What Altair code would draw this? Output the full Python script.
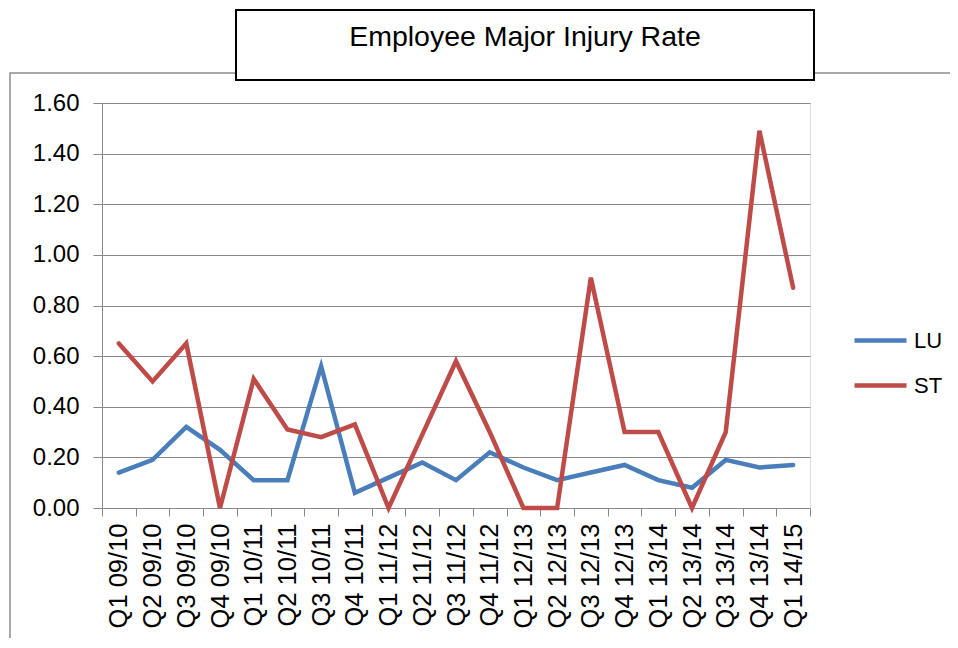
import altair as alt
import pandas as pd

quarters = ["Q1 09/10", "Q2 09/10", "Q3 09/10", "Q4 09/10",
            "Q1 10/11", "Q2 10/11", "Q3 10/11", "Q4 10/11",
            "Q1 11/12", "Q2 11/12", "Q3 11/12", "Q4 11/12",
            "Q1 12/13", "Q2 12/13", "Q3 12/13", "Q4 12/13",
            "Q1 13/14", "Q2 13/14", "Q3 13/14", "Q4 13/14",
            "Q1 14/15"]
lu_rate = [0.14, 0.19, 0.32, 0.23, 0.11, 0.11, 0.56, 0.06, 0.12, 0.18, 0.11,
           0.22, 0.16, 0.11, 0.14, 0.17, 0.11, 0.08, 0.19, 0.16, 0.17]
st_rate = [0.65, 0.50, 0.65, 0.00, 0.51, 0.31, 0.28, 0.33, 0.00, 0.29, 0.58,
           0.30, 0.00, 0.00, 0.91, 0.30, 0.30, 0.00, 0.30, 1.49, 0.87]
series_names = ["LU", "ST"]
series_colors = ["#4A7EBB", "#BE4B48"]
y_ticks = [0.0, 0.2, 0.4, 0.6, 0.8, 1.0, 1.2, 1.4, 1.6]
title_text = "Employee Major Injury Rate"

FONT = "Liberation Sans"
GRID = "#898989"

df = pd.DataFrame({
    "Quarter": quarters * 2,
    "Series": [series_names[0]] * len(lu_rate) + [series_names[1]] * len(st_rate),
    "Rate": lu_rate + st_rate,
})
one = pd.DataFrame({"k": [0]})

frame = alt.Chart(one).mark_rect(fill="transparent", stroke="#8c8c8c", strokeWidth=1.5).encode(
    x=alt.value(-92), x2=alt.value(900), y=alt.value(-30), y2=alt.value(700)
)

lines = alt.Chart(df).mark_line(strokeWidth=4.5, strokeCap="round").encode(
    x=alt.X("Quarter:N", sort=quarters,
            scale=alt.Scale(type="band", paddingInner=0, paddingOuter=0),
            axis=alt.Axis(title=None, labelAngle=-90, tickBand="extent",
                          labelFontSize=25.5, labelFont=FONT, labelColor="black",
                          tickColor=GRID, domainColor=GRID, tickSize=8,
                          labelPadding=7, grid=False, labelAlign="right",
                          labelBaseline="middle")),
    y=alt.Y("Rate:Q", scale=alt.Scale(domain=[0, 1.6], nice=False),
            axis=alt.Axis(title=None, values=y_ticks, format=".2f",
                          labelFontSize=24, labelFont=FONT, labelColor="black",
                          tickSize=9, labelPadding=14, gridColor=GRID,
                          domainColor=GRID, tickColor=GRID, gridWidth=1)),
    color=alt.Color("Series:N",
                    scale=alt.Scale(domain=series_names, range=series_colors),
                    legend=alt.Legend(title=None, orient="none", legendX=750, legendY=209,
                                      symbolType="stroke", symbolSize=2704,
                                      symbolStrokeWidth=4.5, labelFontSize=22,
                                      labelFont=FONT, labelColor="black",
                                      labelOffset=5, rowPadding=5, padding=0)),
)

title_box = alt.Chart(one).mark_rect(fill="white", stroke="black", strokeWidth=2).encode(
    x=alt.value(236 - 102), x2=alt.value(814 - 102), y=alt.value(10 - 103), y2=alt.value(80 - 103)
)
title = alt.Chart(one).mark_text(text=title_text, fontSize=28.5, font=FONT, align="center",
                                 baseline="middle", color="black").encode(
    x=alt.value(525 - 102), y=alt.value(37 - 103)
)

chart = alt.layer(frame, lines, title_box, title).properties(
    width=708, height=405,
    autosize=alt.AutoSizeParams(type="none"),
    padding={"left": 94, "top": 95, "right": 140, "bottom": 130},
    background="white",
).configure_view(strokeWidth=0).configure(font=FONT)

chart.save("out.html", embed_options={"renderer": "svg", "actions": False})
